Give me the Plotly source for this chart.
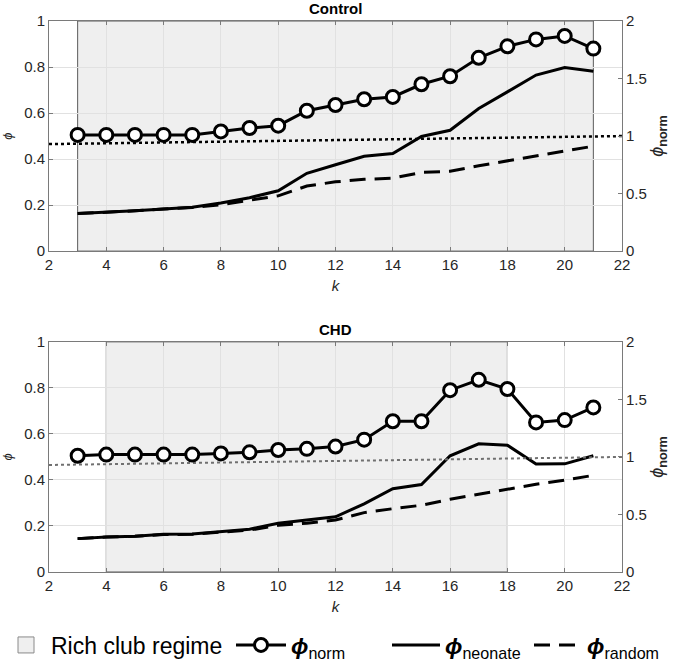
import plotly.graph_objects as go

# ---------------- data ----------------
k = [3, 4, 5, 6, 7, 8, 9, 10, 11, 12, 13, 14, 15, 16, 17, 18, 19, 20, 21]

control_norm = [1.01, 1.01, 1.01, 1.01, 1.01, 1.04, 1.07, 1.09, 1.22, 1.27, 1.32, 1.34,
                1.45, 1.52, 1.68, 1.78, 1.84, 1.87, 1.76]
control_neonate = [0.163, 0.168, 0.175, 0.183, 0.191, 0.209, 0.232, 0.262, 0.338, 0.375,
                   0.412, 0.424, 0.498, 0.525, 0.620, 0.692, 0.765, 0.798, 0.782]
control_random = [0.163, 0.168, 0.175, 0.183, 0.189, 0.202, 0.220, 0.240, 0.283, 0.301,
                  0.312, 0.317, 0.342, 0.347, 0.371, 0.392, 0.414, 0.432, 0.456]

chd_norm = [1.01, 1.02, 1.02, 1.02, 1.02, 1.03, 1.04, 1.06, 1.07, 1.09, 1.15, 1.31,
            1.31, 1.58, 1.67, 1.59, 1.30, 1.32, 1.43]
chd_neonate = [0.145, 0.152, 0.155, 0.164, 0.165, 0.174, 0.186, 0.212, 0.225, 0.240,
               0.296, 0.362, 0.380, 0.505, 0.557, 0.551, 0.469, 0.470, 0.505]
chd_random = [0.145, 0.152, 0.155, 0.163, 0.164, 0.172, 0.182, 0.203, 0.212, 0.226,
              0.258, 0.275, 0.290, 0.316, 0.338, 0.359, 0.381, 0.399, 0.420]

# rich club regime (k range) per group
control_regime = [3, 21]
chd_regime = [4, 18]

# reference line (phi_norm scale) endpoints
ref_k = [2, 22]
ref_norm = [0.93, 1.0]

titles = ["Control", "CHD"]
left_ticks = [0, 0.2, 0.4, 0.6, 0.8, 1]
left_tick_text = ["0", "0.2", "0.4", "0.6", "0.8", "1"]
right_ticks = [0, 0.5, 1, 1.5, 2]
right_tick_text = ["0", "0.5", "1", "1.5", "2"]
x_ticks = [2, 4, 6, 8, 10, 12, 14, 16, 18, 20, 22]

# ---------------- figure ----------------
FONT = "Liberation Sans, Arial, Helvetica, sans-serif"
AX = "#7a7a7a"
GRID = "#e1e1e1"
TXT = "#262626"
W, H = 682, 666
LEG_Y = (H - 645) / H

fig = go.Figure()

# legend-only entry for the shaded regime
fig.add_trace(go.Scatter(x=[None], y=[None], mode="markers",
                         marker=dict(symbol="square", size=22, color="#efefef",
                                     line=dict(color="#8a8a8a", width=1)),
                         name="Rich club regime", showlegend=True, legend="legend",
                         hoverinfo="skip"))

panels = [
    dict(norm=control_norm, neo=control_neonate, rnd=control_random, regime=control_regime,
         xa="x", ya="y", yr="y3", refcol="black", refw=2.5, title=titles[0]),
    dict(norm=chd_norm, neo=chd_neonate, rnd=chd_random, regime=chd_regime,
         xa="x2", ya="y2", yr="y4", refcol="#707070", refw=2, title=titles[1]),
]

for i, p in enumerate(panels):
    first = (i == 0)
    fig.add_shape(type="rect", xref=p["xa"], yref=p["ya"],
                  x0=p["regime"][0], x1=p["regime"][1], y0=0, y1=1,
                  fillcolor="#efefef", line=dict(color="#5a5a5a", width=1),
                  layer="below")
    fig.add_trace(go.Scatter(x=ref_k, y=ref_norm, xaxis=p["xa"], yaxis=p["yr"],
                             mode="lines", line=dict(color=p["refcol"], width=p["refw"], dash="dot"),
                             showlegend=False, hoverinfo="skip"))
    fig.add_trace(go.Scatter(x=k, y=p["rnd"], xaxis=p["xa"], yaxis=p["ya"], mode="lines",
                             line=dict(color="black", width=3, dash="16px,9px"),
                             name="<b><i>ϕ</i></b><sub>random</sub>", showlegend=first,
                             legend="legend4"))
    fig.add_trace(go.Scatter(x=k, y=p["neo"], xaxis=p["xa"], yaxis=p["ya"], mode="lines",
                             line=dict(color="black", width=3),
                             name="<b><i>ϕ</i></b><sub>neonate</sub>", showlegend=first,
                             legend="legend3"))
    fig.add_trace(go.Scatter(x=k, y=p["norm"], xaxis=p["xa"], yaxis=p["yr"], mode="lines+markers",
                             line=dict(color="black", width=3),
                             marker=dict(symbol="circle", size=13, color="white",
                                         line=dict(color="black", width=3)),
                             name="<b><i>ϕ</i></b><sub>norm</sub>", showlegend=first,
                             legend="legend2"))
    fig.add_annotation(text="<b>" + p["title"] + "</b>", xref=p["xa"] + " domain", yref=p["ya"] + " domain",
                       x=0.5, y=1.0, yanchor="bottom", xanchor="center", yshift=2, showarrow=False,
                       font=dict(family=FONT, size=15, color="black"))

xcommon = dict(range=[2, 22], tickvals=x_ticks, showgrid=True, gridcolor=GRID, gridwidth=1,
               showline=True, linecolor=AX, linewidth=1, mirror="ticks", automargin=False,
               ticks="inside", ticklen=4, tickcolor=AX, zeroline=False,
               tickfont=dict(family=FONT, size=15, color=TXT),
               title=dict(text="<i>k</i>", font=dict(family=FONT, size=15, color=TXT), standoff=8))
ycommon = dict(range=[0, 1], tickvals=left_ticks, ticktext=left_tick_text, showgrid=True,
               gridcolor=GRID, gridwidth=1, showline=True, linecolor=AX, linewidth=1,
               ticks="inside", ticklen=4, tickcolor=AX, zeroline=False, automargin=False,
               tickfont=dict(family=FONT, size=15, color=TXT),
               title=dict(text="<i>ϕ</i>", font=dict(family=FONT, size=13, color=TXT), standoff=16))
rcommon = dict(range=[0, 2], tickvals=right_ticks, ticktext=right_tick_text, showgrid=False,
               showline=True, linecolor=AX, linewidth=1, side="right", automargin=False,
               ticks="inside", ticklen=4, tickcolor=AX, zeroline=False,
               tickfont=dict(family=FONT, size=15, color=TXT),
               title=dict(text="<i>ϕ</i><sub><b>norm</b></sub>",
                          font=dict(family=FONT, size=18, color=TXT), standoff=4))

top_dom = [0.5824, 1.0]
bot_dom = [0.0, 0.4177]


def leg(xpx, size, iw):
    return dict(orientation="h", xref="container", yref="container",
                x=xpx / W, xanchor="left", y=LEG_Y, yanchor="middle",
                font=dict(family=FONT, size=size, color="black"), itemwidth=iw,
                bgcolor="rgba(0,0,0,0)")


fig.update_layout(
    width=W, height=H,
    margin=dict(l=49, r=60, t=21, b=94, autoexpand=False),
    plot_bgcolor="white", paper_bgcolor="white",
    font=dict(family=FONT, size=14, color="black"),
    xaxis=dict(xcommon, anchor="y", domain=[0, 1]),
    xaxis2=dict(xcommon, anchor="y2", domain=[0, 1]),
    yaxis=dict(ycommon, anchor="x", domain=top_dom),
    yaxis2=dict(ycommon, anchor="x2", domain=bot_dom),
    yaxis3=dict(rcommon, anchor="x", overlaying="y"),
    yaxis4=dict(rcommon, anchor="x2", overlaying="y2"),
    showlegend=True,
    legend=leg(1, 23, 40),
    legend2=leg(231, 23, 50),
    legend3=leg(387, 23, 48),
    legend4=leg(529, 23, 48),
)

fig.write_html("out.html", config={"displayModeBar": False},
               post_script="document.body.style.margin='0px';")
